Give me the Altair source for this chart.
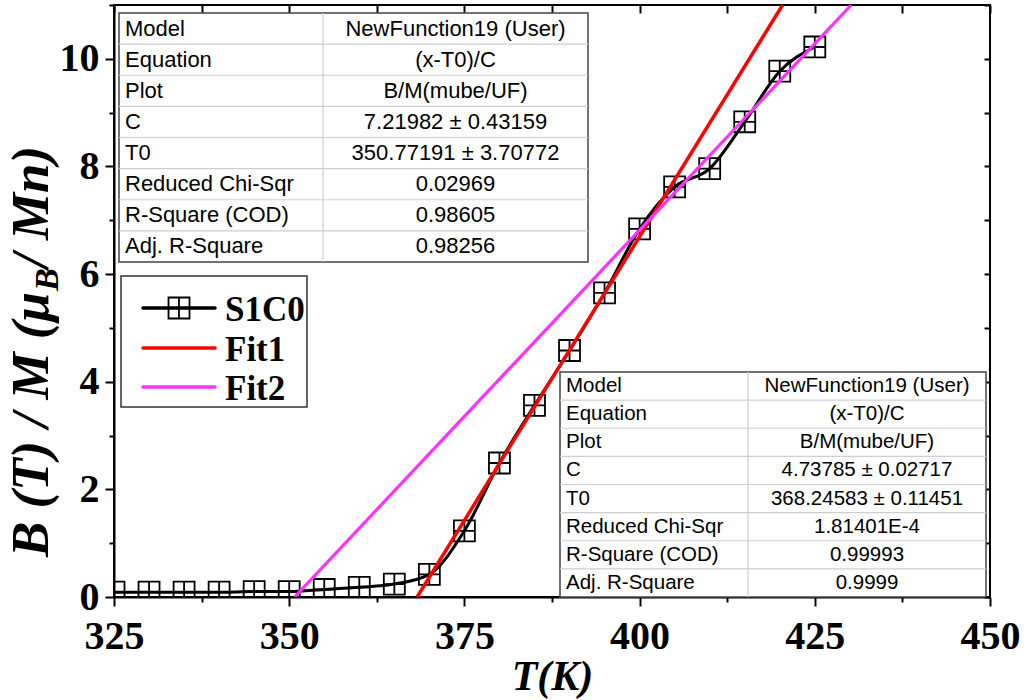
import altair as alt
import pandas as pd

# ---------------- data ----------------
T = [325, 330, 335, 340, 345, 350, 355, 360, 365, 370, 375, 380, 385, 390,
     395, 400, 405, 410, 415, 420, 425]
BM = [0.09, 0.09, 0.09, 0.09, 0.10, 0.10, 0.14, 0.18, 0.24, 0.42, 1.23, 2.49,
      3.56, 4.58, 5.65, 6.84, 7.62, 7.96, 8.83, 9.77, 10.22]

fit1_T = [368.25, 420.4]
fit1_y = [0.0, 11.0]
fit2_T = [350.77, 430.2]
fit2_y = [0.0, 11.0]

x_ticks = [325, 337.5, 350, 362.5, 375, 387.5, 400, 412.5, 425, 437.5, 450]
y_ticks = [0, 1, 2, 3, 4, 5, 6, 7, 8, 9, 10, 11]

table_labels = ["Model", "Equation", "Plot", "C", "T0", "Reduced Chi-Sqr",
                "R-Square (COD)", "Adj. R-Square"]
table1_values = ["NewFunction19 (User)", "(x-T0)/C", "B/M(mube/UF)",
                 "7.21982 \u00b1 0.43159", "350.77191 \u00b1 3.70772",
                 "0.02969", "0.98605", "0.98256"]
table2_values = ["NewFunction19 (User)", "(x-T0)/C", "B/M(mube/UF)",
                 "4.73785 \u00b1 0.02717", "368.24583 \u00b1 0.11451",
                 "1.81401E-4", "0.99993", "0.9999"]

legend_names = ["S1C0", "Fit1", "Fit2"]
legend_colors = ["black", "#FF0000", "#FF33FF"]

# ---------------- scales ----------------
xs = alt.Scale(domain=[325, 450], nice=False, zero=False)
ys = alt.Scale(domain=[0, 11], nice=False, zero=False)

data = pd.DataFrame({"T": T, "BM": BM})
f1 = pd.DataFrame({"T": fit1_T, "BM": fit1_y})
f2 = pd.DataFrame({"T": fit2_T, "BM": fit2_y})

SERIF = "Liberation Serif"
SANS = "Liberation Sans"
box_shape = "M-1,-1H1V1H-1Z M0,-1V1 M-1,0H1"

x_axis = alt.Axis(
    values=x_ticks, title="T(K)", titleFont=SERIF, titleFontStyle="italic",
    titleFontWeight="bold", titleFontSize=42, titlePadding=0,
    labelExpr="datum.value % 25 === 0 ? datum.label : ''",
    tickSize={"condition": {"test": "datum.value % 25 === 0", "value": 9}, "value": 5},
    labelPadding=10, labelFlush=False, labelOverlap=False,
)
y_axis = alt.Axis(
    values=y_ticks, title=None,
    labelExpr="datum.value % 2 === 0 ? datum.label : ''",
    tickSize={"condition": {"test": "datum.value % 2 === 0", "value": 9}, "value": 5},
    labelPadding=6, labelOverlap=False,
)

line = alt.Chart(data).mark_line(
    color="black", strokeWidth=3, interpolate="monotone", clip=True
).encode(
    x=alt.X("T:Q", scale=xs, axis=x_axis),
    y=alt.Y("BM:Q", scale=ys, axis=y_axis),
)

mirror = alt.Chart(data).mark_point(opacity=0).encode(
    x=alt.X("T:Q", scale=xs, axis=alt.Axis(
        orient="top", values=x_ticks, labels=False, domain=False, title=None,
        tickSize=8, offset=-8)),
    y=alt.Y("BM:Q", scale=ys, axis=alt.Axis(
        orient="right", values=y_ticks, labels=False, domain=False, title=None,
        tickSize=6, offset=-6)),
)

points = alt.Chart(data).mark_point(
    shape=box_shape, size=440, filled=False, color="black", strokeWidth=1.8,
    clip=True, opacity=1
).encode(
    x=alt.X("T:Q", scale=xs, axis=None),
    y=alt.Y("BM:Q", scale=ys, axis=None),
)

fit1 = alt.Chart(f1).mark_line(color="#FF0000", strokeWidth=3.5, clip=True).encode(
    x=alt.X("T:Q", scale=xs, axis=None), y=alt.Y("BM:Q", scale=ys, axis=None))
fit2 = alt.Chart(f2).mark_line(color="#FF33FF", strokeWidth=3.2, clip=True).encode(
    x=alt.X("T:Q", scale=xs, axis=None), y=alt.Y("BM:Q", scale=ys, axis=None))

one = pd.DataFrame({"a": [0]})


def make_table(values, left, right, top, bottom, col, fs):
    n = len(table_labels)
    h = (bottom - top) / n
    df = pd.DataFrame({"row": list(range(n)), "label": table_labels, "value": values})
    box = alt.Chart(one).mark_rect(fill="white", stroke="#444", strokeWidth=1.5).encode(
        x=alt.value(left), x2=alt.value(right), y=alt.value(top), y2=alt.value(bottom))
    hl = alt.Chart(df).transform_filter("datum.row > 0").transform_calculate(
        py=f"{top} + {h} * datum.row"
    ).mark_rule(color="#cfcfcf", strokeWidth=1.2).encode(
        y=alt.Y("py:Q", scale=None, axis=None), x=alt.value(left), x2=alt.value(right))
    vl = alt.Chart(one).mark_rule(color="#cfcfcf", strokeWidth=1.2).encode(
        x=alt.value(col), y=alt.value(top), y2=alt.value(bottom))
    lab = alt.Chart(df).transform_calculate(
        py=f"{top} + {h} * (datum.row + 0.5)"
    ).mark_text(align="left", baseline="middle", font=SANS, fontSize=fs, color="black").encode(
        y=alt.Y("py:Q", scale=None, axis=None), x=alt.value(left + 6), text="label:N")
    val = alt.Chart(df).transform_calculate(
        py=f"{top} + {h} * (datum.row + 0.5)"
    ).mark_text(align="center", baseline="middle", font=SANS, fontSize=fs, color="black").encode(
        y=alt.Y("py:Q", scale=None, axis=None), x=alt.value((col + right) / 2), text="value:N")
    return [box, hl, vl, lab, val]


tab1 = make_table(table1_values, 5, 474, 8, 257, 209, 22)
tab2 = make_table(table2_values, 446, 872, 367, 592, 634, 20.5)

# ---------------- legend ----------------
leg_df = pd.DataFrame({"name": legend_names, "color": legend_colors})
leg_y = [303, 343, 382]
leg_layers = [alt.Chart(one).mark_rect(fill="white", stroke="#333", strokeWidth=1.5).encode(
    x=alt.value(7), x2=alt.value(193), y=alt.value(271), y2=alt.value(402))]
for i in range(3):
    sub = leg_df.iloc[[i]]
    leg_layers.append(alt.Chart(sub).mark_rule(strokeWidth=3.5, strokeCap="round").encode(
        x=alt.value(29), x2=alt.value(101), y=alt.value(leg_y[i]),
        color=alt.Color("color:N", scale=None, legend=None)))
    leg_layers.append(alt.Chart(sub).mark_text(
        align="left", baseline="middle", font=SERIF, fontWeight="bold", fontSize=35,
        color="black").encode(x=alt.value(111), y=alt.value(leg_y[i] + 2), text="name:N"))
leg_layers.append(alt.Chart(one).mark_point(
    shape=box_shape, size=440, filled=False, color="black", strokeWidth=1.8, opacity=1
).encode(x=alt.value(65), y=alt.value(leg_y[0])))

# ---------------- y title (with subscript) ----------------
ytitle_parts = ["B (T) / M (\u03bc", "B", " / Mn)"]
yt_layers = [
    alt.Chart(one).mark_text(angle=270, align="left", baseline="alphabetic", font=SERIF,
                             fontWeight="bold", fontStyle="italic", fontSize=53,
                             color="black", text=ytitle_parts[0]).encode(
        x=alt.value(-66), y=alt.value(552)),
    alt.Chart(one).mark_text(angle=270, align="left", baseline="alphabetic", font=SERIF,
                             fontWeight="bold", fontStyle="italic", fontSize=34,
                             color="black", text=ytitle_parts[1]).encode(
        x=alt.value(-56), y=alt.value(286)),
    alt.Chart(one).mark_text(angle=270, align="left", baseline="alphabetic", font=SERIF,
                             fontWeight="bold", fontStyle="italic", fontSize=53,
                             color="black", text=ytitle_parts[2]).encode(
        x=alt.value(-66), y=alt.value(263)),
]

chart = alt.layer(
    line, mirror, points, fit1, fit2, *tab1, *tab2, *leg_layers, *yt_layers
).resolve_axis(x="independent", y="independent").properties(
    width=876, height=592,
    autosize=alt.AutoSizeParams(type="none"),
    padding={"left": 114, "top": 5, "right": 37, "bottom": 103},
    background="white",
).configure_view(stroke="black", strokeWidth=2).configure_axis(
    labelFont=SERIF, labelFontWeight="bold", labelFontSize=40, labelColor="black",
    tickColor="black", tickWidth=2, domainColor="black", domainWidth=2, grid=False,
    titleColor="black",
)

chart.save("out.html", embed_options={"renderer": "svg", "actions": False})
